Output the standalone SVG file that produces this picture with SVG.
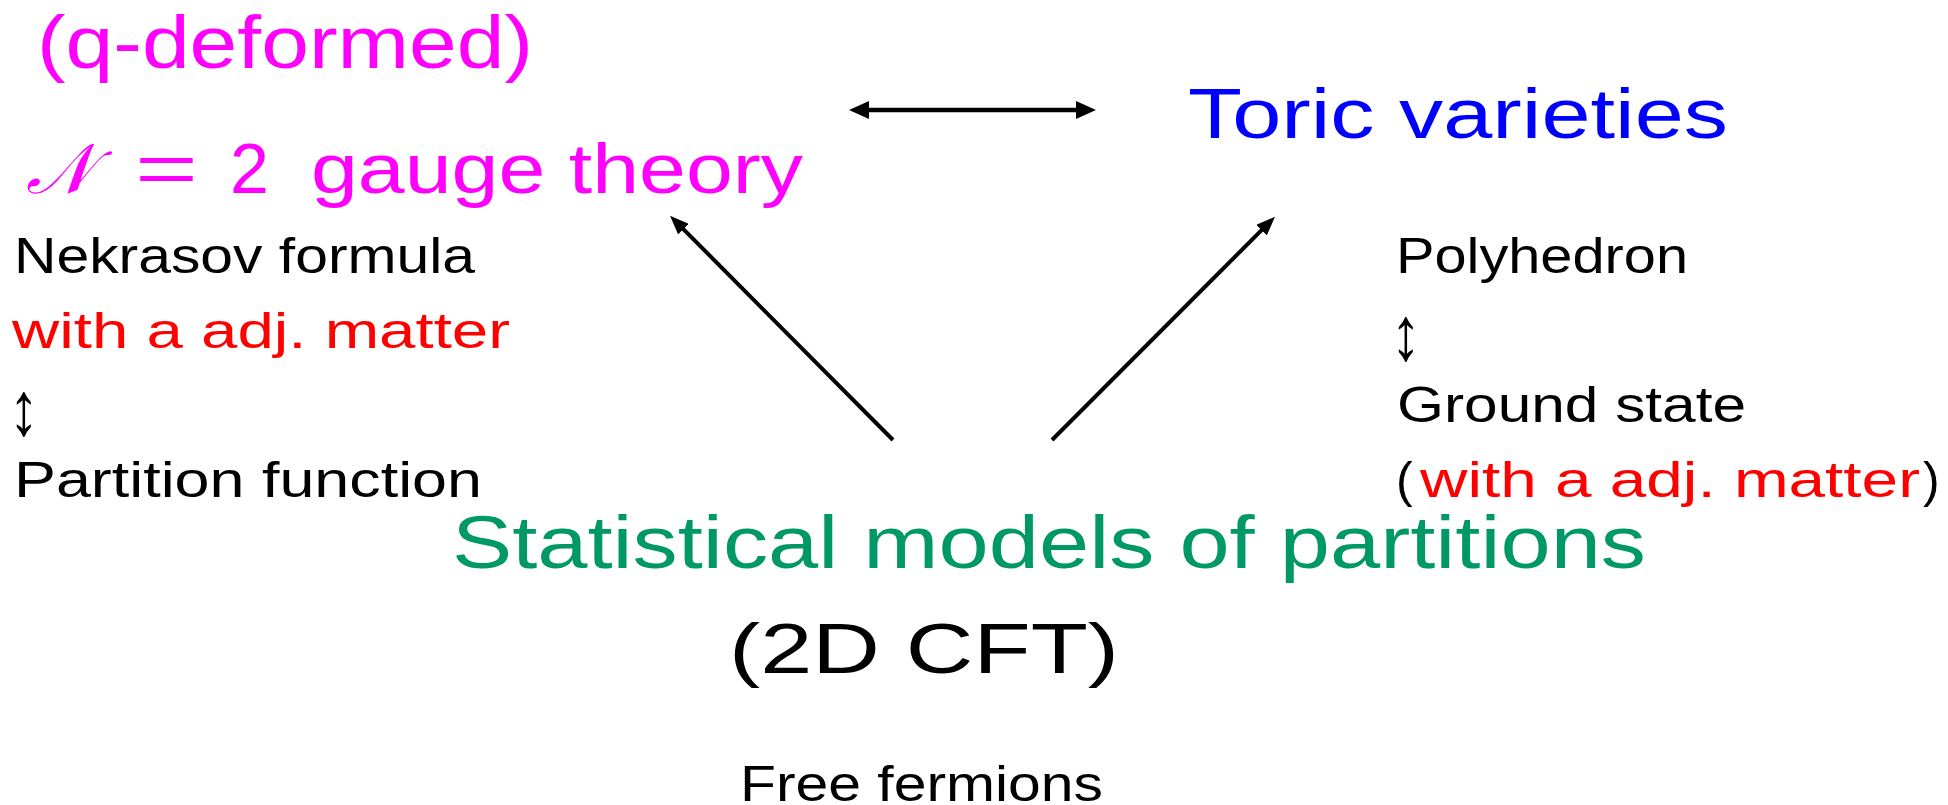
<svg xmlns="http://www.w3.org/2000/svg" width="1948" height="805" viewBox="0 0 1948 805">
<style>
text{font-family:"Liberation Sans","DejaVu Sans",sans-serif;}
.mg{fill:#FF00FF;}
.bl{fill:#0000FF;}
.rd{fill:#FF0000;}
.gr{fill:#009966;}
.bk{fill:#000000;}
.sm{font-size:50px;}
.ar{font-family:"Liberation Serif","DejaVu Serif",serif;font-size:76px;}
.cn{stroke:#000;fill:none;}
</style>
<defs>
<marker id="ah" markerUnits="userSpaceOnUse" markerWidth="20" markerHeight="18" refX="10" refY="9" orient="auto-start-reverse" viewBox="0 0 20 18">
<path d="M0,0 L20,9 L0,18 z" fill="#000"/>
</marker>
<marker id="ad" markerUnits="userSpaceOnUse" markerWidth="19" markerHeight="15" refX="10" refY="7.5" orient="auto" viewBox="0 0 19 15">
<path d="M0,0 L19,7.5 L0,15 z" fill="#000"/>
</marker>
</defs>
<rect width="1948" height="805" fill="#fff"/>
<g id="connectors">
<line class="cn" x1="859" y1="110" x2="1086" y2="110" stroke-width="4.6" marker-start="url(#ah)" marker-end="url(#ah)"/>
<line class="cn" x1="893" y1="440" x2="676.4" y2="222.1" stroke-width="4" marker-end="url(#ad)"/>
<line class="cn" x1="1052" y1="440" x2="1268.6" y2="223.1" stroke-width="4" marker-end="url(#ad)"/>
</g>
<g id="gauge">
<text class="mg" x="37" y="68" font-size="74" textLength="496" lengthAdjust="spacingAndGlyphs">(q-deformed)</text>
<text class="mg" x="26" y="193" font-size="70" style="font-family:'DejaVu Serif','DejaVu Sans','Noto Sans',serif;font-style:italic">𝒩</text>
<text class="mg" x="135" y="193" font-size="70" textLength="63" lengthAdjust="spacingAndGlyphs">=</text>
<text class="mg" x="230" y="193" font-size="70">2</text>
<text class="mg" x="311" y="193" font-size="70" textLength="492" lengthAdjust="spacingAndGlyphs">gauge theory</text>
</g>
<g id="toric">
<text class="bl" x="1188" y="138" font-size="71" textLength="540" lengthAdjust="spacingAndGlyphs">Toric varieties</text>
</g>
<g id="nekrasov">
<text class="bk sm" x="14" y="273" textLength="461" lengthAdjust="spacingAndGlyphs">Nekrasov formula</text>
<text class="rd sm" x="12" y="348" textLength="498" lengthAdjust="spacingAndGlyphs">with a adj. matter</text>
<text class="bk ar" x="9" y="435" textLength="30" lengthAdjust="spacingAndGlyphs">↕</text>
<text class="bk sm" x="14" y="497" textLength="468" lengthAdjust="spacingAndGlyphs">Partition function</text>
</g>
<g id="polyhedron">
<text class="bk sm" x="1396" y="273" textLength="292" lengthAdjust="spacingAndGlyphs">Polyhedron</text>
<text class="bk ar" x="1391" y="360" textLength="30" lengthAdjust="spacingAndGlyphs">↕</text>
<text class="bk sm" x="1397" y="422" textLength="349" lengthAdjust="spacingAndGlyphs">Ground state</text>
<text class="bk sm" x="1396" y="497">(</text>
<text class="rd sm" x="1420" y="497" textLength="500" lengthAdjust="spacingAndGlyphs">with a adj. matter</text>
<text class="bk sm" x="1923" y="497">)</text>
</g>
<g id="statistical">
<text class="gr" x="452" y="568" font-size="74" textLength="1194" lengthAdjust="spacingAndGlyphs">Statistical models of partitions</text>
<text class="bk" x="729" y="673" font-size="71" textLength="390" lengthAdjust="spacingAndGlyphs">(2D CFT)</text>
</g>
<g id="fermions">
<text class="bk sm" x="740" y="801" font-size="52" textLength="363" lengthAdjust="spacingAndGlyphs">Free fermions</text>
</g>
</svg>
